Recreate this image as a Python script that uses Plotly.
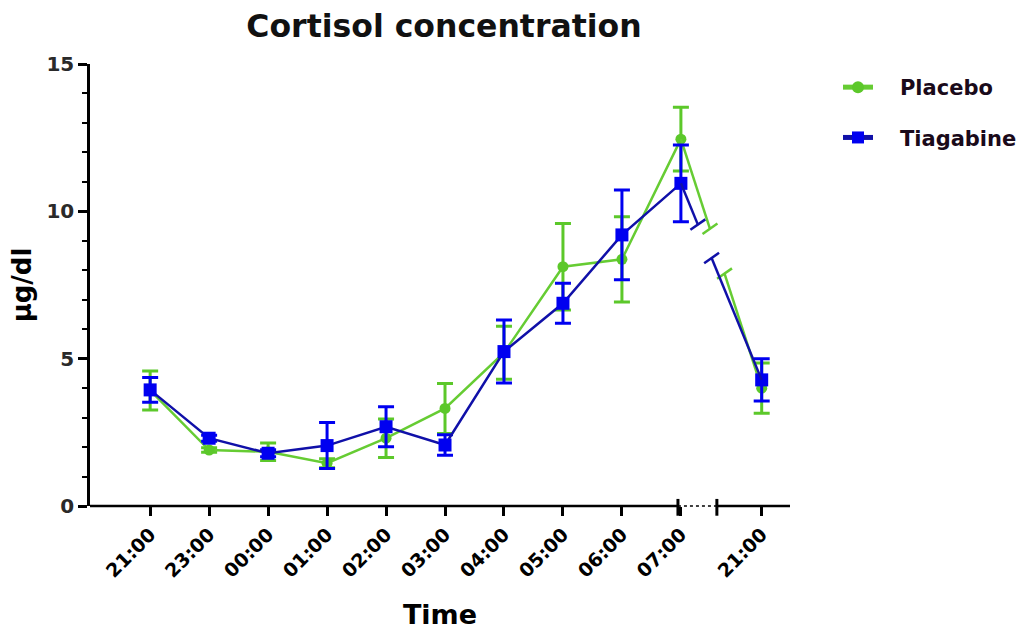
import numpy as np
import plotly.graph_objects as go

# ---- data ----
times = ["21:00", "23:00", "00:00", "01:00", "02:00", "03:00", "04:00", "05:00", "06:00", "07:00", "21:00"]
placebo_mean = [3.92, 1.90, 1.84, 1.45, 2.30, 3.31, 5.20, 8.12, 8.37, 12.45, 4.00]
placebo_sem = [0.66, 0.08, 0.30, 0.15, 0.65, 0.85, 0.90, 1.47, 1.45, 1.08, 0.85]
tiagabine_mean = [3.94, 2.30, 1.79, 2.05, 2.69, 2.07, 5.24, 6.88, 9.20, 10.95, 4.28]
tiagabine_sem = [0.42, 0.10, 0.12, 0.78, 0.68, 0.35, 1.07, 0.68, 1.52, 1.30, 0.72]

# ---- layout positions (axis with a break before the last point) ----
x_pos = np.array([0, 1, 2, 3, 4, 5, 6, 7, 8, 9, 10.37])
x_min, x_max = -1.02, 10.85
break_start, break_end = 8.95, 9.61

GREEN = "#5cc82a"
GREEN_LINE = "#66cc33"
BLUE = "#0000f0"
BLUE_LINE = "#1010a8"
FONT = "DejaVu Sans"
NB = "\u00a0\u00a0\u00a0"

fig = go.Figure()


def add_series(name, mean, sem, mcolor, lcolor, symbol, msize, gap):
    mean = np.array(mean)
    sem = np.array(sem)
    n = len(mean)
    fig.add_trace(go.Scatter(
        x=x_pos[:n - 1], y=mean[:n - 1], name=NB + name, mode="lines+markers",
        line=dict(color=lcolor, width=2.5),
        marker=dict(color=mcolor, symbol=symbol, size=msize, line=dict(width=0)),
        error_y=dict(type="data", array=sem[:n - 1], color=mcolor, thickness=3, width=8),
        legendgroup=name, showlegend=True))
    fig.add_trace(go.Scatter(
        x=x_pos[n - 1:], y=mean[n - 1:], mode="markers",
        marker=dict(color=mcolor, symbol=symbol, size=msize, line=dict(width=0)),
        error_y=dict(type="data", array=sem[n - 1:], color=mcolor, thickness=3, width=8),
        legendgroup=name, showlegend=False, hoverinfo="skip"))
    x0, x1 = x_pos[n - 2], x_pos[n - 1]
    y0, y1 = mean[n - 2], mean[n - 1]
    f1, f2 = gap
    xa, ya = x0 + f1 * (x1 - x0), y0 + f1 * (y1 - y0)
    xb, yb = x0 + f2 * (x1 - x0), y0 + f2 * (y1 - y0)
    for xs, ys in (([x0, xa], [y0, ya]), ([xb, x1], [yb, y1])):
        fig.add_trace(go.Scatter(
            x=xs, y=ys, mode="lines", line=dict(color=lcolor, width=2.5),
            legendgroup=name, showlegend=False, hoverinfo="skip"))
    fig.add_trace(go.Scatter(
        x=[xa, xb], y=[ya, yb], mode="markers",
        marker=dict(symbol="line-ew", size=13, angle=-35,
                    line=dict(color=lcolor, width=2.5)),
        legendgroup=name, showlegend=False, hoverinfo="skip"))


add_series("Placebo", placebo_mean, placebo_sem, GREEN, GREEN_LINE, "circle", 11, (0.36, 0.54))
add_series("Tiagabine", tiagabine_mean, tiagabine_sem, BLUE, BLUE_LINE, "square", 13, (0.21, 0.38))

# x axis line with break
axis_line = dict(color="black", width=2.5)
fig.add_shape(type="line", xref="x", yref="paper", x0=x_min, x1=break_start, y0=0, y1=0, line=axis_line)
fig.add_shape(type="line", xref="x", yref="paper", x0=break_start, x1=break_end, y0=0, y1=0,
              line=dict(color="black", width=1.5, dash="dot"))
fig.add_shape(type="line", xref="x", yref="paper", x0=break_end, x1=x_max, y0=0, y1=0, line=axis_line)
for xb in (break_start, break_end):
    fig.add_shape(type="line", xref="x", yref="paper", x0=xb, x1=xb, y0=-0.022, y1=0.016,
                  line=dict(color="black", width=3))

fig.update_layout(
    width=1029, height=635,
    margin=dict(l=90, r=239, t=64, b=129, autoexpand=False),
    paper_bgcolor="white", plot_bgcolor="white",
    title=dict(text="Cortisol concentration", x=444 / 1029, xanchor="center", xref="container",
               y=1 - 26 / 635, yanchor="middle", yref="container",
               font=dict(family=FONT, size=31.5, color="#111111", weight="bold")),
    font=dict(family=FONT, color="black"),
    legend=dict(x=838 / 1029, y=1 - 67 / 635, xref="container", yref="container",
                xanchor="left", yanchor="top",
                font=dict(family=FONT, size=21, color="#1a0a1a", weight="bold"),
                itemsizing="constant", tracegroupgap=20, bgcolor="rgba(0,0,0,0)"),
    showlegend=True,
)

fig.update_xaxes(
    range=[x_min, x_max], showgrid=False, zeroline=False, showline=False,
    tickmode="array", tickvals=list(x_pos), ticktext=times,
    ticks="outside", ticklen=9, tickwidth=2.5, tickcolor="black",
    tickangle=-45, tickfont=dict(family=FONT, size=19, color="black", weight="bold"),
    title=dict(text="Time", font=dict(family=FONT, size=27, color="black", weight="bold"), standoff=24),
)
fig.update_yaxes(
    range=[0, 15], showgrid=False, zeroline=False, showline=True, linecolor="black", linewidth=2.5,
    tickmode="array", tickvals=[0, 5, 10, 15],
    ticks="outside", ticklen=9, tickwidth=2.5, tickcolor="black",
    minor=dict(tickvals=[1, 2, 3, 4, 6, 7, 8, 9, 11, 12, 13, 14], ticks="outside", ticklen=5,
               tickwidth=2, tickcolor="black"),
    tickfont=dict(family=FONT, size=20, color="#2a2a2a", weight="bold"),
    title=dict(text="µg/dl", font=dict(family=FONT, size=26, color="black", weight="bold"), standoff=8),
)

fig.write_html("out.html")
